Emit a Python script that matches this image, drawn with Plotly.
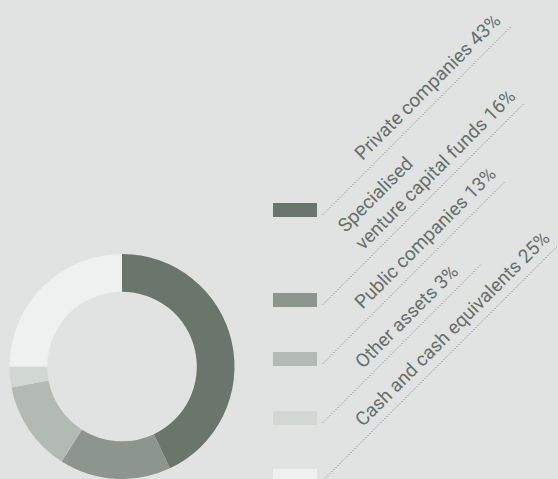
import math
import plotly.graph_objects as go

# Portfolio allocation
categories = [
    "Private companies",
    "Specialised<br>venture capital funds",
    "Public companies",
    "Other assets",
    "Cash and cash equivalents",
]
values = [43, 16, 13, 3, 25]
colors = ["#6a756b", "#8c958e", "#b2bab3", "#d1d7d3", "#eff1f0"]

BG = "#e1e3e2"
TEXT = "#66706a"
W, H = 558, 479

# Legend layout (pixel space, y measured from top)
swatch_tops = [203, 293, 352, 411, 469]
leader_dx = [189, 201, 182, 159, 234]
SW_X0, SW_X1, SW_H = 273, 317, 14
FS = 19

fig = go.Figure()

fig.add_trace(go.Pie(
    labels=[c.replace("<br>", " ") for c in categories],
    values=values,
    marker=dict(colors=colors, line=dict(width=0)),
    hole=0.665,
    sort=False,
    direction="clockwise",
    rotation=0,
    textinfo="none",
    hoverinfo="label+percent",
    showlegend=False,
    domain=dict(x=[9 / W, 235 / W], y=[0, 225 / H]),
))

shapes = []
annotations = []
s2 = math.sqrt(2)
for cat, val, col, top, dx in zip(categories, values, colors, swatch_tops, leader_dx):
    # legend swatch
    shapes.append(dict(type="rect", xref="x", yref="y",
                       x0=SW_X0, x1=SW_X1, y0=top, y1=top + SW_H,
                       fillcolor=col, line=dict(width=0), layer="above"))
    # dotted 45-degree leader line
    sx, sy = 323, top + 11.5
    shapes.append(dict(type="line", xref="x", yref="y",
                       x0=sx, y0=sy, x1=sx + dx, y1=sy - dx,
                       line=dict(color="#6c756e", width=1, dash="1px,2px")))
    # rotated label sitting just above the leader line
    nlines = cat.count("<br>") + 1
    box_h = 1.3 * FS * nlines
    along, off = 67, 4
    blx = sx + (along - off) / s2
    bly = sy - (along + off) / s2
    annotations.append(dict(
        xref="x", yref="y", x=blx - box_h / s2, y=bly,
        xanchor="left", yanchor="bottom", align="left",
        text=f"{cat} {val}%", textangle=-45, showarrow=False,
        borderpad=0, borderwidth=0,
        font=dict(family="Roboto, Arial, sans-serif", size=FS, color=TEXT),
    ))

fig.update_layout(
    width=W, height=H,
    margin=dict(l=0, r=0, t=0, b=0),
    paper_bgcolor=BG, plot_bgcolor=BG,
    xaxis=dict(range=[0, W], visible=False, fixedrange=True),
    yaxis=dict(range=[H, 0], visible=False, fixedrange=True),
    shapes=shapes, annotations=annotations,
)

fig.write_html("out.html")
